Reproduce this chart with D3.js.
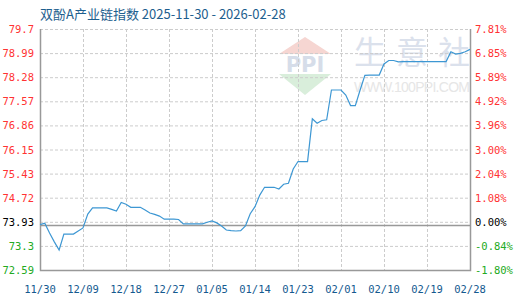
<!DOCTYPE html>
<html lang="zh">
<head>
    <meta charset="UTF-8">
    <title>双酚A产业链指数</title>
    <script src="https://d3js.org/d3.v7.min.js"></script>
    <style>
        body { margin: 0; background: #fff; }
        svg { display: block; }
    </style>
</head>
<body>
    <div id="chart"></div>
    <script>
        // dati (un valore al giorno, 2025-11-30 .. 2026-02-28)
        const startDate = "2025-11-30";
        const values = [
            73.93, 73.97, 73.68, 73.42, 73.18, 73.65, 73.65, 73.65, 73.74, 73.83,
            74.24, 74.42, 74.42, 74.42, 74.42, 74.38, 74.33, 74.58, 74.53, 74.44,
            74.44, 74.44, 74.36, 74.27, 74.23, 74.18, 74.09, 74.09, 74.09, 74.08,
            73.95, 73.95, 73.95, 73.95, 73.95, 74.00, 74.04, 73.98, 73.89, 73.77,
            73.75, 73.74, 73.75, 73.89, 74.25, 74.46, 74.80, 75.03, 75.03, 75.03,
            74.98, 75.12, 75.15, 75.57, 75.79, 75.79, 75.79, 77.05, 76.92, 77.00,
            77.02, 77.90, 77.90, 77.90, 77.75, 77.44, 77.44, 77.90, 78.33, 78.34,
            78.34, 78.34, 78.67, 78.77, 78.77, 78.73, 78.74, 78.74, 78.74, 78.74,
            78.74, 78.74, 78.74, 78.74, 78.74, 78.74, 79.03, 78.96, 78.98, 79.03,
            79.10
        ];
        const baseValue = 73.93;
        const leftTicks = ["79.7", "78.99", "78.28", "77.57", "76.86", "76.15", "75.43", "74.72", "73.93", "73.3", "72.59"];
        const rightTicks = ["7.81%", "6.85%", "5.89%", "4.92%", "3.96%", "3.00%", "2.04%", "1.08%", "0.00%", "-0.84%", "-1.80%"];
        const xTicks = ["11/30", "12/09", "12/18", "12/27", "01/05", "01/14", "01/23", "02/01", "02/10", "02/19", "02/28"];

        const width = 520, height = 300;
        const margin = { top: 29, right: 50, bottom: 30, left: 40 };
        const yMin = 72.59, yMax = 79.7;

        const parse = d3.timeParse("%Y-%m-%d");
        const t0 = parse(startDate);
        const data = values.map((v, i) => ({ date: d3.timeDay.offset(t0, i), v: v }));

        const x = d3.scaleTime()
            .domain([t0, data[data.length - 1].date])
            .range([margin.left, width - margin.right]);
        const y = d3.scaleLinear()
            .domain([yMin, yMax])
            .range([height - margin.bottom, margin.top]);
        // righe della griglia equidistanti
        const gy = d3.scaleLinear().domain([leftTicks.length - 1, 0]).range([height - margin.bottom, margin.top]);

        const svg = d3.select("#chart").append("svg")
            .attr("width", width)
            .attr("height", height);

        const labelColor = (i) => {
            const base = leftTicks.indexOf(String(baseValue));
            return i < base ? "#ff3333" : (i === base ? "#000" : "#22aa22");
        };

        // titolo
        svg.append("text")
            .attr("x", 40).attr("y", 19)
            .attr("font-family", "'Noto Sans CJK SC', 'Noto Sans', sans-serif")
            .attr("font-size", "13px")
            .attr("fill", "#1d5e8e")
            .text("双酚A产业链指数 2025-11-30 - 2026-02-28");

        // filigrana
        const wm = svg.append("g");
        wm.append("path")
            .attr("d", "M305,37 L331,54 L279,54 Z")
            .attr("fill", "#f6d6d2");
        wm.append("text")
            .attr("x", 305).attr("y", 72)
            .attr("text-anchor", "middle")
            .attr("font-family", "'DejaVu Sans', sans-serif")
            .attr("font-weight", "bold")
            .attr("font-size", "21px")
            .attr("fill", "#d6dde9")
            .text("PPI");
        wm.append("path")
            .attr("d", "M279,74 L331,74 L305,95 Z")
            .attr("fill", "#d9eedb");
        ["生", "意", "社"].forEach((c, i) => {
            wm.append("text")
                .attr("x", 354 + i * 42).attr("y", 64)
                .attr("font-family", "'Noto Sans CJK SC', sans-serif")
                .attr("font-size", "32px")
                .attr("fill", "#dbe1ec")
                .text(c);
        });
        wm.append("text")
            .attr("x", 354).attr("y", 92)
            .attr("font-family", "Arial, 'Liberation Sans', sans-serif")
            .attr("font-size", "14px")
            .attr("textLength", 116)
            .attr("fill", "#e6e6e6")
            .text("WWW.100PPI.COM");

        // griglia orizzontale
        svg.append("g")
            .selectAll("line")
            .data(leftTicks)
            .join("line")
            .attr("x1", margin.left).attr("x2", width - margin.right)
            .attr("y1", (d, i) => gy(i) + 0.5).attr("y2", (d, i) => gy(i) + 0.5)
            .attr("stroke", "#cccccc")
            .attr("stroke-dasharray", "3,2");

        // griglia verticale
        const tickDates = xTicks.map((d, i) => d3.timeDay.offset(t0, i * 9));
        svg.append("g")
            .selectAll("line")
            .data(tickDates)
            .join("line")
            .attr("x1", d => Math.round(x(d)) + 0.5).attr("x2", d => Math.round(x(d)) + 0.5)
            .attr("y1", margin.top).attr("y2", height - margin.bottom)
            .attr("stroke", "#cccccc")
            .attr("stroke-dasharray", "3,2");

        // linea base
        svg.append("line")
            .attr("x1", margin.left).attr("x2", width - margin.right)
            .attr("y1", Math.round(y(baseValue)) + 0.5).attr("y2", Math.round(y(baseValue)) + 0.5)
            .attr("stroke", "#999")
            .attr("stroke-width", 1.5);

        // cornice
        svg.append("path")
            .attr("d", `M${margin.left + 0.5},${margin.top} V${height - margin.bottom + 0.5} H${width - margin.right + 0.5} V${margin.top}`)
            .attr("fill", "none")
            .attr("stroke", "#999")
            .attr("stroke-width", 1.5);

        // linea dei dati
        svg.append("path")
            .datum(data)
            .attr("fill", "none")
            .attr("stroke", "#3d97d3")
            .attr("stroke-width", 1.2)
            .attr("d", d3.line().x(d => x(d.date)).y(d => y(d.v)));

        const mono = "'DejaVu Sans Mono', 'Liberation Mono', monospace";

        // etichette asse sinistro
        svg.append("g")
            .selectAll("text")
            .data(leftTicks)
            .join("text")
            .attr("x", 34)
            .attr("y", (d, i) => gy(i) + 4)
            .attr("text-anchor", "end")
            .attr("font-family", mono)
            .attr("font-size", "10.5px")
            .attr("fill", (d, i) => labelColor(i))
            .text(d => d);

        // etichette asse destro
        svg.append("g")
            .selectAll("text")
            .data(rightTicks)
            .join("text")
            .attr("x", 475)
            .attr("y", (d, i) => gy(i) + 4)
            .attr("font-family", mono)
            .attr("font-size", "10.5px")
            .attr("fill", (d, i) => labelColor(i))
            .text(d => d);

        // etichette asse x
        svg.append("g")
            .selectAll("text")
            .data(xTicks)
            .join("text")
            .attr("x", (d, i) => x(tickDates[i]))
            .attr("y", 293)
            .attr("text-anchor", "middle")
            .attr("font-family", mono)
            .attr("font-size", "10.5px")
            .attr("fill", "#145a8f")
            .text(d => d);
    </script>
</body>
</html>
